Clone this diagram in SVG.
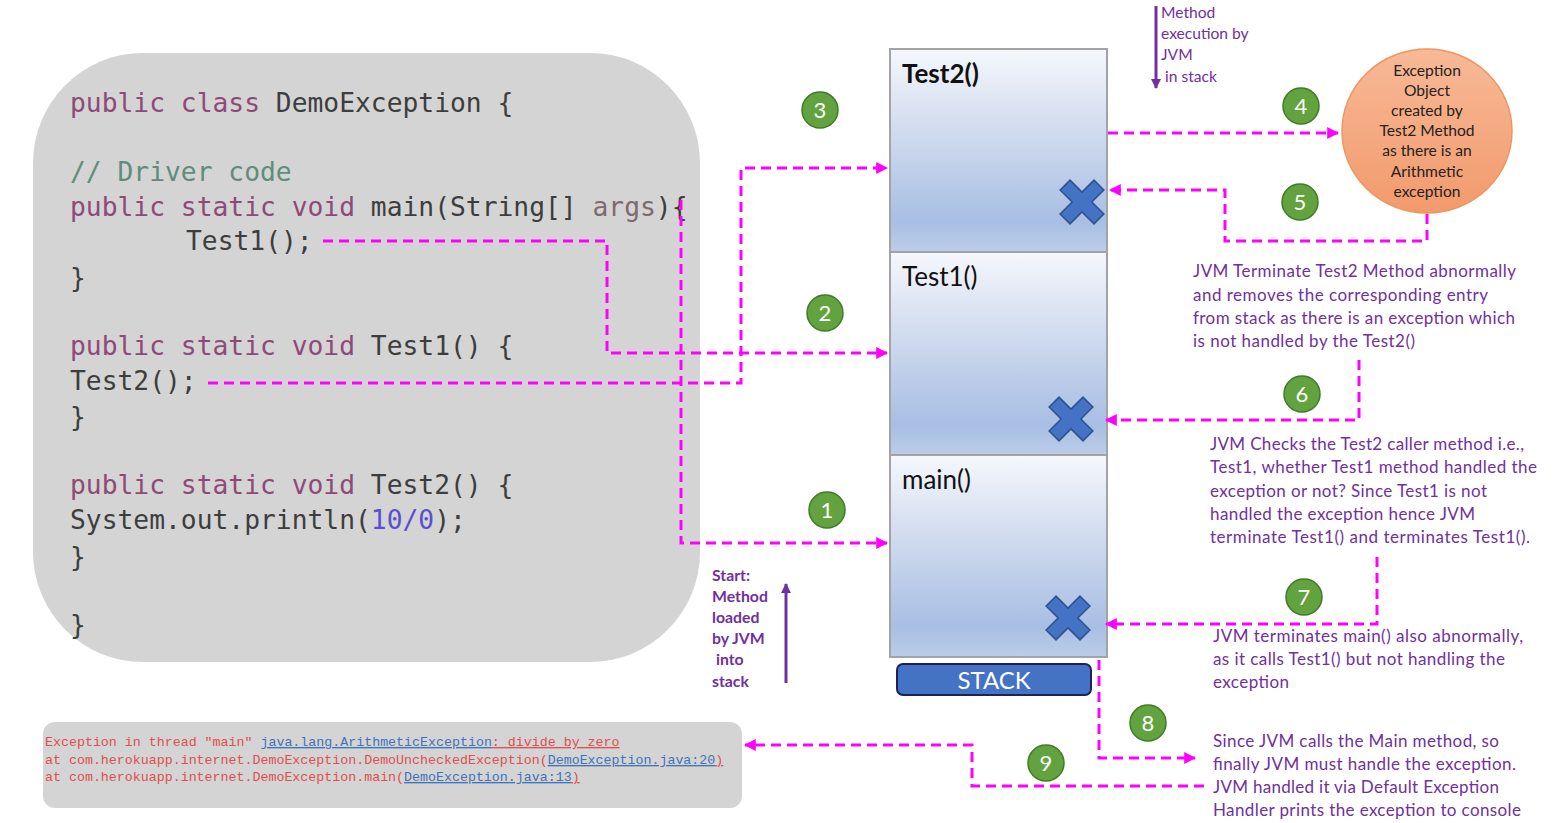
<svg xmlns="http://www.w3.org/2000/svg" width="1562" height="823" viewBox="0 0 1562 823">
<style>
.code{font-family:"DejaVu Sans Mono","Liberation Mono",monospace;font-size:26.3px;fill:#3d3d3d}
.kw{fill:#8e4a77}
.cm{fill:#5f8d7c}
.ar{fill:#7d6a6d}
.num{fill:#5b4fd0}
.con{font-family:"Liberation Mono","DejaVu Sans Mono",monospace;font-size:13.3px;fill:#de4f4f}
.lnk{fill:#3f73b8;text-decoration:underline}
.ul{text-decoration:underline}
.pt{font-family:Lato,"Open Sans",sans-serif;font-size:17px;fill:#7030a0}
.ps{font-family:Lato,"Open Sans",sans-serif;font-size:15.6px;fill:#7030a0}
.pb{font-family:Lato,"Open Sans",sans-serif;font-size:15.8px;font-weight:bold;fill:#7030a0}
.lbl{font-family:Lato,"Open Sans",sans-serif;font-size:26px;fill:#111}
.ot{font-family:Lato,"Open Sans",sans-serif;font-size:15.6px;fill:#222;text-anchor:middle}
.gc{fill:#62a23f;stroke:#3f7c28;stroke-width:1.5}
.gn{font-family:Lato,"Open Sans",sans-serif;font-size:22px;fill:#fff;text-anchor:middle}
.cell{fill:url(#cellg);stroke:#a3a3a3;stroke-width:2}
.xm{fill:#4472c4;stroke:#2f528f;stroke-width:1.5}
.dash{fill:none;stroke:#f0f;stroke-width:3;stroke-dasharray:10 6}
.pa{fill:none;stroke:#7030a0;stroke-width:3}
</style>
<defs>
<linearGradient id="cellg" x1="0" y1="0" x2="0" y2="1">
<stop offset="0" stop-color="#f5f7fc"/>
<stop offset="0.5" stop-color="#c8d5ec"/>
<stop offset="0.85" stop-color="#a8bee3"/>
<stop offset="1" stop-color="#bccde9"/>
</linearGradient>
<linearGradient id="og" x1="0" y1="0" x2="0" y2="1">
<stop offset="0" stop-color="#f8b997"/>
<stop offset="1" stop-color="#f29a6c"/>
</linearGradient>
<marker id="mh" viewBox="0 0 10 10" refX="9" refY="5" markerWidth="4" markerHeight="4" orient="auto" markerUnits="strokeWidth">
<path d="M0,0 L10,5 L0,10 z" fill="#f0f"/>
</marker>
<marker id="ph" viewBox="0 0 10 10" refX="9" refY="5" markerWidth="3.5" markerHeight="3.5" orient="auto" markerUnits="strokeWidth">
<path d="M0,0 L10,5 L0,10 z" fill="#7030a0"/>
</marker>
<path id="xshape" d="M-21.9,-12 L-12,-21.9 L0,-9.9 L12,-21.9 L21.9,-12 L9.9,0 L21.9,12 L12,21.9 L0,9.9 L-12,21.9 L-21.9,12 L-9.9,0 Z"/>
</defs>

<g id="code-box">
<rect x="33" y="53" width="667" height="609" rx="110" ry="110" fill="#d4d4d4"/>
<text class="code" x="70" y="112"><tspan class="kw">public class</tspan> DemoException {</text>
<text class="code" x="70" y="181"><tspan class="cm">// Driver code</tspan></text>
<text class="code" x="70" y="216"><tspan class="kw">public static void</tspan> main(String[] <tspan class="ar">args</tspan>){</text>
<text class="code" x="186" y="250">Test1();</text>
<text class="code" x="70" y="287">}</text>
<text class="code" x="70" y="355"><tspan class="kw">public static void</tspan> Test1() {</text>
<text class="code" x="70" y="390">Test2();</text>
<text class="code" x="70" y="426">}</text>
<text class="code" x="70" y="494"><tspan class="kw">public static void</tspan> Test2() {</text>
<text class="code" x="70" y="529">System.out.println(<tspan class="num">10/0</tspan>);</text>
<text class="code" x="70" y="566">}</text>
<text class="code" x="70" y="634">}</text>
</g>

<g id="console">
<rect x="43" y="722" width="699" height="86" rx="12" ry="12" fill="#d4d4d4"/>
<text class="con" x="45" y="746">Exception in thread "main" <tspan class="lnk">java.lang.ArithmeticException</tspan><tspan class="ul">: divide by zero</tspan></text>
<text class="con" x="45" y="764">at com.herokuapp.internet.DemoException.DemoUncheckedException(<tspan class="lnk">DemoException.java:20</tspan><tspan class="ul">)</tspan></text>
<text class="con" x="45" y="781">at com.herokuapp.internet.DemoException.main(<tspan class="lnk">DemoException.java:13</tspan><tspan class="ul">)</tspan></text>
</g>

<g id="stack">
<g id="cell-test2">
<rect class="cell" x="890" y="49" width="217" height="203"/>
<text class="lbl" x="902" y="83" font-weight="bold">Test2()</text>
<use href="#xshape" class="xm" x="1082" y="202"/>
</g>
<g id="cell-test1">
<rect class="cell" x="890" y="252" width="217" height="203"/>
<text class="lbl" x="902" y="286">Test1()</text>
<use href="#xshape" class="xm" x="1071" y="419"/>
</g>
<g id="cell-main">
<rect class="cell" x="890" y="455" width="217" height="202"/>
<text class="lbl" x="902" y="489">main()</text>
<use href="#xshape" class="xm" x="1068" y="618"/>
</g>
<g id="stack-label">
<rect x="897" y="664" width="194" height="31" rx="6" ry="6" fill="#4472c4" stroke="#20205a" stroke-width="2"/>
<text x="994" y="689" font-family="Lato,'Open Sans',sans-serif" font-size="24" fill="#fff" text-anchor="middle">STACK</text>
</g>
</g>

<g id="exception-object">
<ellipse cx="1427" cy="131" rx="85" ry="82" fill="url(#og)" stroke="#ee9560" stroke-width="1.5"/>
<text class="ot" x="1427" y="76">Exception</text>
<text class="ot" x="1427" y="96">Object</text>
<text class="ot" x="1427" y="116">created by</text>
<text class="ot" x="1427" y="136">Test2 Method</text>
<text class="ot" x="1427" y="156">as there is an</text>
<text class="ot" x="1427" y="177">Arithmetic</text>
<text class="ot" x="1427" y="197">exception</text>
</g>

<g id="connectors">
<path class="dash" d="M681,200 V543 H887" marker-end="url(#mh)"/>
<path class="dash" d="M323,241 H607 V353 H887" marker-end="url(#mh)"/>
<path class="dash" d="M208,383 H741 V168 H887" marker-end="url(#mh)"/>
<path class="dash" d="M1108,133 H1338" marker-end="url(#mh)"/>
<path class="dash" d="M1427,214 V241 H1225 V190 H1110" marker-end="url(#mh)"/>
<path class="dash" d="M1359,360 V420 H1106" marker-end="url(#mh)"/>
<path class="dash" d="M1377,557 V624 H1106" marker-end="url(#mh)"/>
<path class="dash" d="M1099,660 V758 H1195" marker-end="url(#mh)"/>
<path class="dash" d="M1204,786 H972 V745 H745" marker-end="url(#mh)"/>
<path class="pa" d="M1156,6 V88" marker-end="url(#ph)"/>
<path class="pa" d="M786,683 V584" marker-end="url(#ph)"/>
</g>

<g id="steps">
<g id="step1"><circle class="gc" cx="827" cy="510" r="18"/><text class="gn" x="827" y="518">1</text></g>
<g id="step2"><circle class="gc" cx="825" cy="313" r="18"/><text class="gn" x="825" y="321">2</text></g>
<g id="step3"><circle class="gc" cx="820" cy="110" r="18"/><text class="gn" x="820" y="118">3</text></g>
<g id="step4"><circle class="gc" cx="1301" cy="106" r="18"/><text class="gn" x="1301" y="114">4</text></g>
<g id="step5"><circle class="gc" cx="1300" cy="202" r="18"/><text class="gn" x="1300" y="210">5</text></g>
<g id="step6"><circle class="gc" cx="1302" cy="394" r="18"/><text class="gn" x="1302" y="402">6</text></g>
<g id="step7"><circle class="gc" cx="1304" cy="597" r="18"/><text class="gn" x="1304" y="605">7</text></g>
<g id="step8"><circle class="gc" cx="1148" cy="723" r="18"/><text class="gn" x="1148" y="731">8</text></g>
<g id="step9"><circle class="gc" cx="1046" cy="763" r="18"/><text class="gn" x="1046" y="771">9</text></g>
</g>

<g id="note-execution">
<text class="ps" x="1161" y="18">Method</text>
<text class="ps" x="1161" y="39">execution by</text>
<text class="ps" x="1161" y="60">JVM</text>
<text class="ps" x="1165" y="82">in stack</text>
</g>

<g id="note-start">
<text class="pb" x="712" y="581">Start:</text>
<text class="pb" x="712" y="602">Method</text>
<text class="pb" x="712" y="623">loaded</text>
<text class="pb" x="712" y="644">by JVM</text>
<text class="pb" x="716" y="665">into</text>
<text class="pb" x="712" y="687">stack</text>
</g>

<g id="note-5">
<text class="pt" x="1193" y="277" textLength="323">JVM Terminate Test2 Method abnormally</text>
<text class="pt" x="1193" y="301" textLength="295">and removes the corresponding entry</text>
<text class="pt" x="1193" y="324" textLength="322">from stack as there is an exception which</text>
<text class="pt" x="1193" y="347" textLength="222">is not handled by the Test2()</text>
</g>

<g id="note-6">
<text class="pt" x="1210" y="450" textLength="314">JVM Checks the Test2 caller method i.e.,</text>
<text class="pt" x="1210" y="473" textLength="327">Test1, whether Test1 method handled the</text>
<text class="pt" x="1210" y="497" textLength="277">exception or not? Since Test1 is not</text>
<text class="pt" x="1210" y="520" textLength="265">handled the exception hence JVM</text>
<text class="pt" x="1210" y="543" textLength="320">terminate Test1() and terminates Test1().</text>
</g>

<g id="note-7">
<text class="pt" x="1213" y="642" textLength="310">JVM terminates main() also abnormally,</text>
<text class="pt" x="1213" y="665" textLength="292">as it calls Test1() but not handling the</text>
<text class="pt" x="1213" y="688" textLength="76">exception</text>
</g>

<g id="note-8">
<text class="pt" x="1213" y="747" textLength="286">Since JVM calls the Main method, so</text>
<text class="pt" x="1213" y="770" textLength="303">finally JVM must handle the exception.</text>
<text class="pt" x="1213" y="793" textLength="286">JVM handled it via Default Exception</text>
<text class="pt" x="1213" y="816" textLength="308">Handler prints the exception to console</text>
</g>
</svg>
